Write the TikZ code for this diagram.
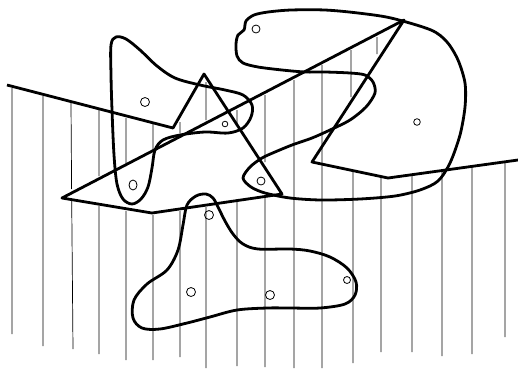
\documentclass[tikz,border=0pt]{standalone}
\usepackage{tikz}

\begin{document}
\begin{tikzpicture}[x=1pt,y=-1pt,
    edge/.style={line width=2.8pt,line join=round},
    hatch/.style={line width=0.7pt},
    hole/.style={line width=0.8pt}
]
\useasboundingbox (0,0) rectangle (518,368);

\draw[hatch]
    (12,88) -- (12,334)
    (43,96) -- (43,346)
    (71,103) -- (71.6,189)  (71.7,201) -- (73,349)
    (99,110) -- (99,176)  (99,206) -- (99,354)
    (126,118) -- (126,166)  (126,211) -- (126,360)
    (153,124) -- (153,149)  (153,215) -- (153,360)
    (180,122) -- (180,133)  (180,211) -- (180,357)
    (206,82) -- (206,120)  (206,207) -- (206,368)
    (237,110) -- (237,124)  (237,202) -- (237,366)
    (265,95) -- (265,162)  (265,198) -- (265,367)
    (294,80) -- (294,368)
    (322,65) -- (322,368)
    (351,50) -- (351,97)  (353,172) -- (353,363)
    (377,37) -- (377,54)  (381,177) -- (381,352)
    (412,176) -- (412,352)
    (442,169) -- (442,356)
    (472,165) -- (472,354)
    (505,162) -- (505,337);

\draw[edge]
    (7,85) -- (173,128) -- (204,74) -- (282,194) -- (152,213) -- (62,198)
    -- (404,20) -- (312,162) -- (388,178) -- (518,160);

\draw[edge] plot[smooth cycle,tension=0.55] coordinates {
    (111,45) (116,37) (126,39) (140,50) (157,66) (175,78) (200,85)
    (225,90) (243,95) (252,105) (251,117) (243,128) (228,133) (205,132)
    (180,135) (163,140) (155,150) (152,168) (148,187) (141,199) (132,204)
    (123,199) (117,184) (114,155) (112,110) (111,75)};

\draw[edge] plot[smooth cycle,tension=0.5] coordinates {
    (244,30) (246,21) (254,15) (268,12) (291,10) (325,10) (358,13)
    (391,18) (431,30) (447,42) (458,60) (465,83) (465,107) (460,135)
    (450,163) (438,181) (420,190) (395,196) (360,199) (321,200) (290,198)
    (265,193) (251,187) (243,178) (250,167) (262,158) (275,152) (292,145)
    (312,138) (330,130) (350,120) (366,107) (375,93) (373,82) (365,75)
    (350,73) (325,72) (305,72) (282,70) (258,67) (243,63) (237,56)
    (236,44) (238,35)};

\draw[edge] plot[smooth cycle,tension=0.55] coordinates {
    (206,194) (213,198) (218,207) (225,221) (233,234) (243,244) (258,249)
    (290,249) (310,251) (330,257) (347,268) (356,282) (355,295) (345,304)
    (320,308) (290,308) (267,308) (237,310) (210,317) (187,323) (160,329)
    (142,328) (133,318) (134,300) (147,284) (167,270) (178,250) (183,225)
    (187,205) (196,196)};

\draw[hole] (145,102) circle (4.5);
\draw[hole] (133,185) ellipse (4 and 5);
\draw[hole] (225,124) circle (2.8);
\draw[hole] (256,29) circle (4);
\draw[hole] (417,122) circle (3.3);
\draw[hole] (261,181) circle (4);
\draw[hole] (209,215) circle (4.5);
\draw[hole] (191,292) circle (4.5);
\draw[hole] (270,295) circle (4.5);
\draw[hole] (347,280) circle (3.5);
\end{tikzpicture}
\end{document}
